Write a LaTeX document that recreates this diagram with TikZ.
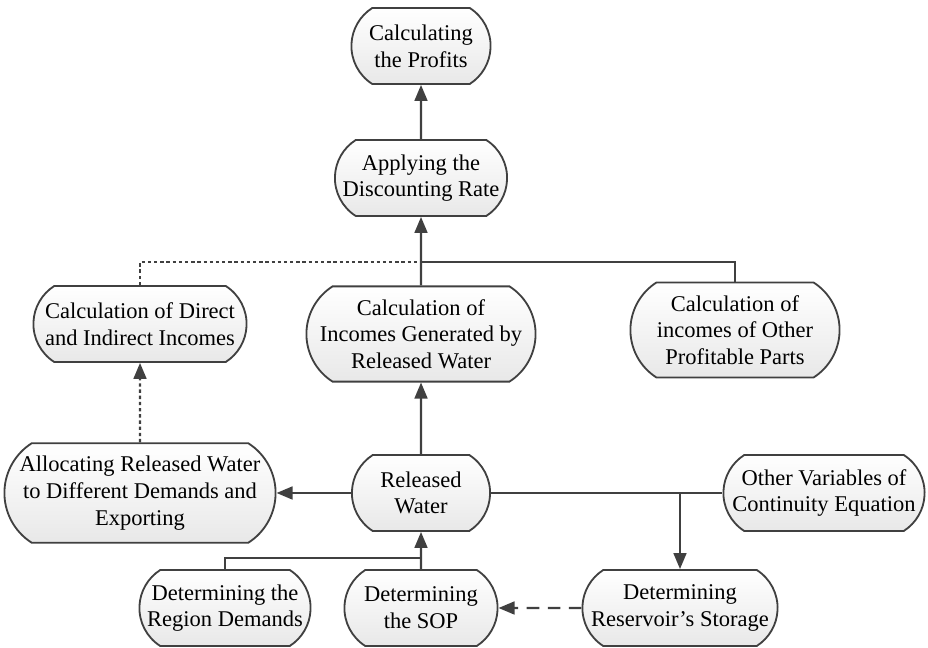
\documentclass[tikz,border=0pt]{standalone}
\usepackage{fontspec}
\setmainfont{Liberation Serif}
\usetikzlibrary{arrows.meta,shapes.misc}
\begin{document}
\begin{tikzpicture}[>={Triangle[length=0.4cm,width=0.32cm]}, line width=1.6pt]
    \tikzstyle{box}=[rounded rectangle, rounded rectangle arc length=115, draw=black!75, line width=1.3pt,
      top color=white, bottom color=black!9, align=center, inner xsep=1pt, inner ysep=0.32cm,
      minimum height=1.9cm, font=\fontsize{16}{19}\selectfont]
    \tikzstyle{link}=[draw=black!75]
    \tikzstyle{fine}=[link, dash pattern=on 2.4pt off 2pt]
    \tikzstyle{long}=[link, dash pattern=on 9pt off 6pt]
    \useasboundingbox (0,0) rectangle (23.2,16.2);
    % top of the chain
    \node[box, minimum width=3.55cm] (profits) at (10.525,15.05) {Calculating\\the Profits};
    \node[box, minimum width=4.375cm] (discount) at (10.525,11.75) {Applying the\\Discounting Rate};
    % incomes
    \node[box, minimum width=5.4cm] (direct) at (3.5,8.1) {Calculation of Direct\\and Indirect Incomes};
    \node[box, minimum width=5.43cm] (incomes) at (10.525,7.85) {Calculation of\\Incomes Generated by\\Released Water};
    \node[box, minimum width=5.3cm] (parts) at (18.375,7.95) {Calculation of\\incomes of Other\\Profitable Parts};
    % water
    \node[box, minimum width=6.85cm] (alloc) at (3.5,3.875) {Allocating Released Water\\to Different Demands and\\Exporting};
    \node[box, minimum width=3.525cm] (released) at (10.525,3.875) {Released\\Water};
    \node[box, minimum width=5.1cm] (othervars) at (20.6,3.875) {Other Variables of\\Continuity Equation};
    % inputs
    \node[box, minimum width=4.35cm] (region) at (5.625,1.0) {Determining the\\Region Demands};
    \node[box, minimum width=3.9cm] (sop) at (10.525,1.0) {Determining\\the SOP};
    \node[box, minimum width=4.95cm] (storage) at (17.0,1.0) {Determining\\Reservoir's Storage};
    \coordinate (jtop) at (10.525,9.65);
    \coordinate (jbot) at (10.525,2.25);
    % connectors
    \draw[link,->] (discount) -- (profits);
    \draw[link,->] (incomes) -- (discount);
    \draw[fine] (direct.north) |- (jtop);
    \draw[link] (parts.north) |- (jtop);
    \draw[link,->] (released) -- (incomes);
    \draw[link,->] (released) -- (alloc);
    \draw[fine,->] (alloc) -- (direct);
    \draw[link] (released.east) -- (othervars.west);
    \draw[link,->] (storage.north |- released.east) -- (storage.north);
    \draw[link] (region.north) |- (jbot);
    \draw[link,->] (sop) -- (released);
    \draw[long,->] (storage) -- (sop);
  \end{tikzpicture}
\end{document}
